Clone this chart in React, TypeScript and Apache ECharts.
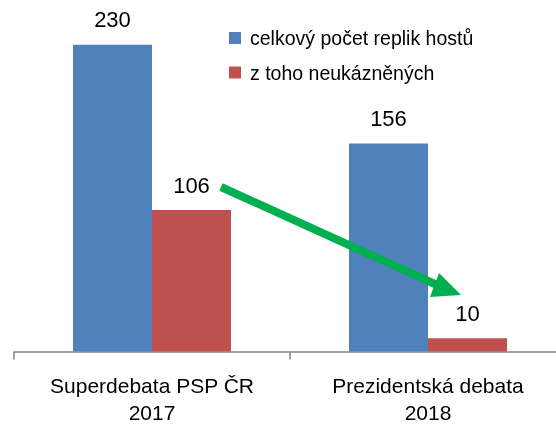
import React, { useEffect, useRef } from "react";
import * as echarts from "echarts";

const categories = ["Superdebata PSP ČR\n2017", "Prezidentská debata\n2018"];
const seriesNames = ["celkový počet replik hostů", "z toho neukázněných"];
const totalReplies = [230, 156];
const unruly = [106, 10];
const colors = ["#4f81bd", "#c0504d"];
const FONT = "Liberation Sans";

export default function App() {
  const ref = useRef<HTMLDivElement>(null);
  useEffect(() => {
    if (!ref.current) return;
    const chart = echarts.init(ref.current, null, { renderer: "svg" });
    const labelStyle = {
      show: true,
      position: "top" as const,
      distance: 14,
      fontSize: 22,
      fontFamily: FONT,
      color: "#000",
    };
    chart.setOption({
      animation: false,
      color: colors,
      textStyle: { fontFamily: FONT },
      legend: {
        orient: "vertical",
        left: 224,
        top: 23,
        padding: 5,
        itemWidth: 12,
        itemHeight: 12,
        itemGap: 14.5,
        icon: "rect",
        textStyle: {
          fontSize: 19.5,
          fontFamily: FONT,
          color: "#000",
          lineHeight: 20,
          padding: [0, 0, 0, 4],
        },
        data: seriesNames,
      },
      grid: {
        left: 14,
        right: -10,
        top: 18,
        bottom: 75.5,
        outerBoundsMode: "none",
        containLabel: false,
      },
      xAxis: {
        type: "category",
        data: categories,
        axisLine: { lineStyle: { color: "#868686", width: 1.5 } },
        axisTick: { show: true, length: 8, lineStyle: { color: "#868686", width: 1.5 } },
        axisLabel: {
          fontSize: 21,
          fontFamily: FONT,
          color: "#000",
          lineHeight: 27,
          margin: 20,
        },
      },
      yAxis: {
        type: "value",
        min: 0,
        max: 250,
        show: false,
        splitLine: { show: false },
      },
      series: [
        {
          name: seriesNames[0],
          type: "bar",
          data: totalReplies,
          barGap: "0%",
          barCategoryGap: "42.75%",
          label: labelStyle,
        },
        {
          name: seriesNames[1],
          type: "bar",
          data: unruly,
          barGap: "0%",
          barCategoryGap: "42.75%",
          label: labelStyle,
        },
      ],
      graphic: [
        {
          type: "line",
          shape: { x1: 221, y1: 187, x2: 437, y2: 285 },
          style: { stroke: "#00b050", lineWidth: 8 },
          z: 100,
        },
        {
          type: "polygon",
          shape: { points: [[439, 273], [461, 295], [430, 297]] },
          style: { fill: "#00b050" },
          z: 100,
        },
      ],
    });
    return () => chart.dispose();
  }, []);
  return (
    <div
      ref={ref}
      style={{ position: "fixed", left: 0, top: 0, width: 556, height: 427 }}
    />
  );
}
